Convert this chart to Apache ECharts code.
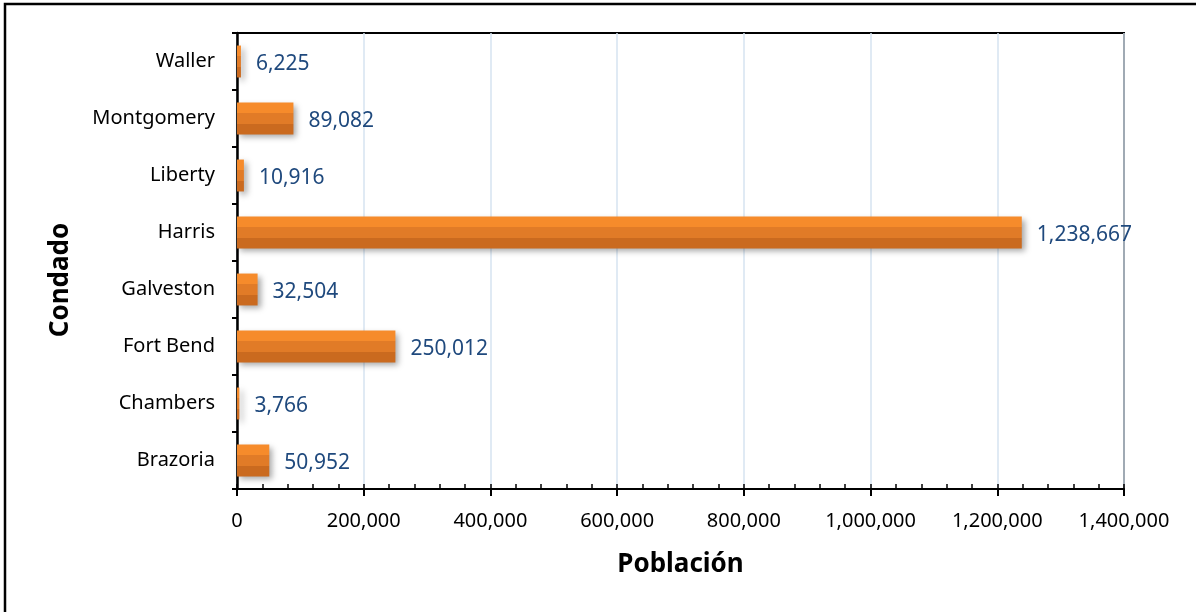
<!DOCTYPE html>
<html>
<head>
<meta charset="utf-8">
<title>Población por condado</title>
<script src="https://cdn.jsdelivr.net/npm/echarts@6/dist/echarts.min.js"></script>
<style>
  html, body { margin: 0; padding: 0; background: #fff; }
  #chart { width: 1196px; height: 612px; }
</style>
</head>
<body>
<div id="chart"></div>
<script>
// categorías (de abajo hacia arriba, como en el eje)
const condados = ['Brazoria', 'Chambers', 'Fort Bend', 'Galveston', 'Harris', 'Liberty', 'Montgomery', 'Waller']
const poblacion = [50952, 3766, 250012, 32504, 1238667, 10916, 89082, 6225]
const ejeMin = 0
const ejeMax = 1400000
const pasoMayor = 200000
const pasoMenor = 40000

const font = '"Noto Sans", "Open Sans", sans-serif'

const chart = echarts.init(document.getElementById('chart'))

// franjas del degradado naranja
const barColor = new echarts.graphic.LinearGradient(0, 0, 0, 1, [
  { offset: 0, color: '#f68b2b' },
  { offset: 0.34, color: '#f68b2b' },
  { offset: 0.34, color: '#e17b27' },
  { offset: 0.67, color: '#e17b27' },
  { offset: 0.67, color: '#ca6a1f' },
  { offset: 1, color: '#ca6a1f' }
])

const option = {
  backgroundColor: '#fff',
  animation: false,
  textStyle: { fontFamily: font },
  grid: {
    left: 237,
    right: 72,
    top: 33,
    bottom: 123,
    show: true,
    borderColor: '#000',
    borderWidth: 2
  },
  xAxis: [
    {
      type: 'value',
      min: ejeMin,
      max: ejeMax,
      interval: pasoMayor,
      name: 'Población',
      nameLocation: 'middle',
      nameGap: 63,
      nameTextStyle: { fontSize: 26, fontWeight: 'bold', color: '#000', fontFamily: font },
      axisLine: { show: true, lineStyle: { color: '#000', width: 2 } },
      axisTick: { show: true, length: 7, lineStyle: { color: '#000', width: 2 } },
      axisLabel: {
        margin: 22,
        fontSize: 20,
        color: '#000',
        fontFamily: font,
        formatter: v => v.toLocaleString('en-US')
      },
      splitLine: { show: true, lineStyle: { color: '#d6e3f0', width: 1.5 } }
    },
    {
      // marcas menores hacia dentro
      type: 'value',
      position: 'bottom',
      min: ejeMin,
      max: ejeMax,
      interval: pasoMenor,
      axisLine: { show: false },
      axisTick: { show: true, inside: true, length: 5, lineStyle: { color: '#000', width: 1.5 } },
      axisLabel: { show: false },
      splitLine: { show: false }
    }
  ],
  yAxis: {
    type: 'category',
    data: condados,
    axisLine: { show: true, lineStyle: { color: '#000', width: 2.5 } },
    axisTick: { show: true, length: 5, lineStyle: { color: '#000', width: 2 } },
    axisLabel: { margin: 22, fontSize: 20, color: '#000', fontFamily: font },
    splitLine: { show: false }
  },
  series: [
    {
      type: 'bar',
      xAxisIndex: 0,
      data: poblacion,
      barWidth: '56%',
      itemStyle: {
        color: barColor,
        shadowColor: 'rgba(0,0,0,0.35)',
        shadowBlur: 6,
        shadowOffsetX: 3,
        shadowOffsetY: 3
      },
      label: {
        show: true,
        position: 'right',
        distance: 15,
        offset: [0, 3],
        fontSize: 21,
        color: '#1f497d',
        fontFamily: font,
        formatter: p => p.value.toLocaleString('en-US')
      }
    }
  ],
  graphic: [
    {
      type: 'rect',
      shape: { x: 5, y: 4, width: 1300, height: 700 },
      style: { fill: 'none', stroke: '#000', lineWidth: 2.5 },
      silent: true
    },
    {
      type: 'text',
      x: 61,
      y: 280,
      rotation: Math.PI / 2,
      style: {
        text: 'Condado',
        font: 'bold 26px ' + font,
        fill: '#000',
        align: 'center',
        verticalAlign: 'middle'
      }
    }
  ]
}

chart.setOption(option)
</script>
</body>
</html>
